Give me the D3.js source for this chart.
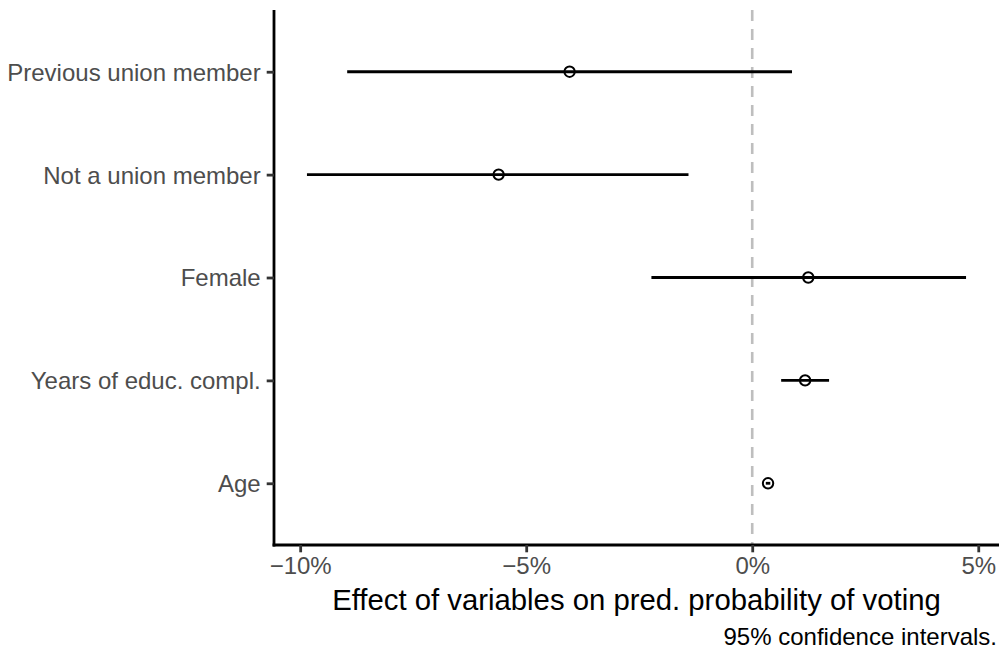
<!DOCTYPE html>
<html><head><meta charset="utf-8">
<script src="https://cdn.jsdelivr.net/npm/d3@7"></script>
<style>body{margin:0;background:#fff}svg{display:block}</style>
</head><body>
<svg id="c" width="999" height="652"></svg>
<script>
const terms = ["Previous union member", "Not a union member", "Female", "Years of educ. compl.", "Age"];
const estimates = [-4.04, -5.61, 1.24, 1.17, 0.35];
const lower = [-8.96, -9.85, -2.23, 0.64, 0.30];
const upper = [0.88, -1.41, 4.73, 1.70, 0.40];
const xTicks = [-10, -5, 0, 5];
const xTitle = "Effect of variables on pred. probability of voting";
const caption = "95% confidence intervals.";

const svg = d3.select("#c");
const font = "'Liberation Sans', Arial, sans-serif";
const L = 274, R = 999, T = 10, B = 545;

const lo = d3.min(lower), hi = d3.max(upper), pad = (hi - lo) * 0.05;
const x = d3.scaleLinear().domain([lo - pad, hi + pad]).range([L, R]);
const y = d3.scalePoint().domain(terms).range([T, B]).padding(0.6);

// zero reference line
svg.append("line").attr("x1", x(0)).attr("x2", x(0)).attr("y1", T).attr("y2", B)
  .attr("stroke", "#bebebe").attr("stroke-width", 2.6).attr("stroke-dasharray", "11,8");

const data = terms.map((t, i) => ({t, est: estimates[i], lo: lower[i], hi: upper[i]}));
svg.append("g").selectAll("line").data(data).join("line")
  .attr("x1", d => x(d.lo)).attr("x2", d => x(d.hi))
  .attr("y1", d => y(d.t)).attr("y2", d => y(d.t))
  .attr("stroke", "#000").attr("stroke-width", 2.8);
svg.append("g").selectAll("circle").data(data).join("circle")
  .attr("cx", d => x(d.est)).attr("cy", d => y(d.t)).attr("r", 5.2)
  .attr("fill", "none").attr("stroke", "#000").attr("stroke-width", 2);

// axes
const fmt = d => (d < 0 ? "\u2212" + Math.abs(d) : d) + "%";
const xa = svg.append("g").attr("transform", `translate(0,${B})`)
  .call(d3.axisBottom(x).tickValues(xTicks).tickFormat(fmt).tickSize(7.3).tickSizeOuter(0).tickPadding(5));
const ya = svg.append("g").attr("transform", `translate(${L},0)`)
  .call(d3.axisLeft(y).tickSize(7.3).tickSizeOuter(0).tickPadding(6));
[xa, ya].forEach(a => {
  a.select(".domain").attr("stroke", "#000").attr("stroke-width", 2.8);
  a.selectAll(".tick line").attr("stroke", "#333").attr("stroke-width", 2.8);
  a.selectAll(".tick text").attr("fill", "#4d4d4d").style("font-family", font).style("font-size", "24px");
});
xa.select(".domain").attr("d", `M${L - 1.4},0H${R}`);
ya.select(".domain").attr("d", `M0,${T}V${B + 1.4}`);
ya.selectAll(".tick text").attr("dy", "0.35em");

svg.append("text").attr("x", (L + R) / 2).attr("y", 610).attr("text-anchor", "middle")
  .style("font-family", font).style("font-size", "29.3px").attr("fill", "#000").text(xTitle);
svg.append("text").attr("x", 997).attr("y", 645).attr("text-anchor", "end")
  .style("font-family", font).style("font-size", "24px").attr("fill", "#000").text(caption);
</script>
</body></html>
